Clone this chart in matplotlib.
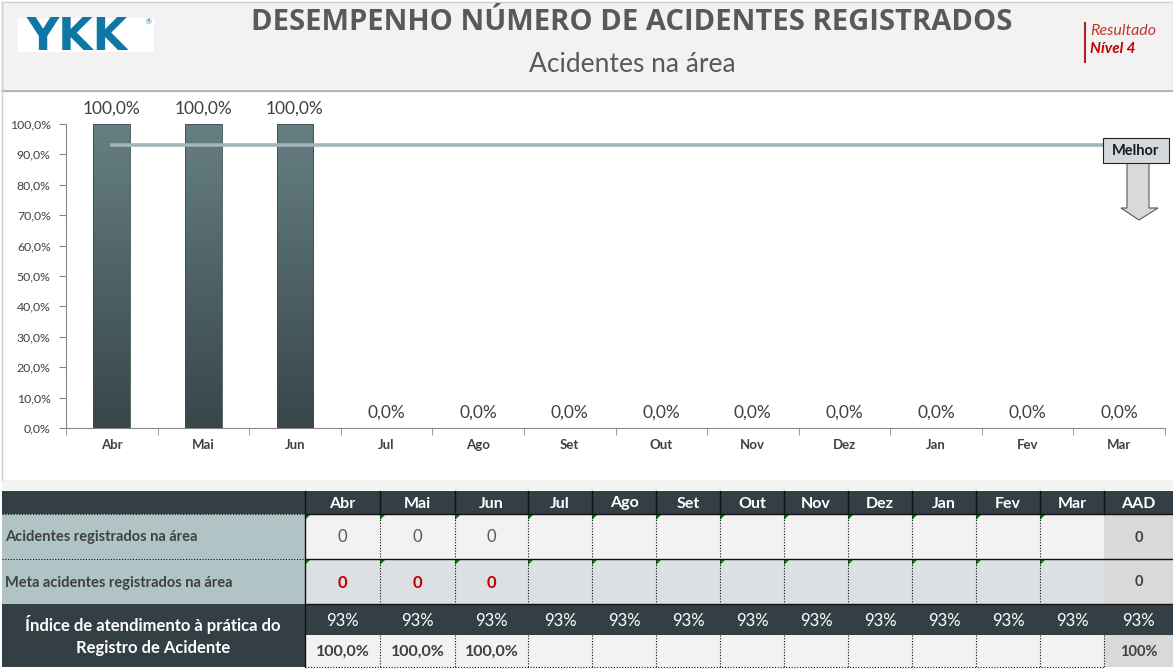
import matplotlib
matplotlib.use("Agg")
import matplotlib.pyplot as plt
import numpy as np
from matplotlib.colors import LinearSegmentedColormap
from matplotlib.patches import Rectangle, Polygon

plt.rcParams['font.family'] = ['Lato', 'DejaVu Sans']

# Data
months = ['Abr', 'Mai', 'Jun', 'Jul', 'Ago', 'Set', 'Out', 'Nov', 'Dez', 'Jan', 'Fev', 'Mar']
indice = [100.0, 100.0, 100.0, 0.0, 0.0, 0.0, 0.0, 0.0, 0.0, 0.0, 0.0, 0.0]
meta_indice = [93] * 12
acidentes = [0, 0, 0, None, None, None, None, None, None, None, None, None]
meta_acidentes = [0, 0, 0, None, None, None, None, None, None, None, None, None]
resultado = ['100,0%', '100,0%', '100,0%', '', '', '', '', '', '', '', '', '']
aad_acidentes = 0
aad_meta = 0
aad_indice = '93%'
aad_resultado = '100%'

W, H = 1173, 671
fig = plt.figure(figsize=(W / 100, H / 100), dpi=100)
fig.patch.set_facecolor('white')

# pixel overlay for header, backgrounds and table
bg = fig.add_axes([0, 0, 1, 1], zorder=0)
bg.set_xlim(0, W)
bg.set_ylim(H, 0)
bg.axis('off')

dark = '#333f44'
txt = '#404040'

# header band
bg.add_patch(Rectangle((2, 2), W - 2, 89, facecolor='#f2f2f2', edgecolor='#d0d0d0', lw=1))
bg.plot([2, W], [91, 91], color='#b0b0b0', lw=1.2)
bg.plot([2, 2], [2, 480], color='#d0d0d0', lw=1)
bg.add_patch(Rectangle((2, 480), W - 2, 10, facecolor='#f2f2f2', edgecolor='none'))

# logo
bg.add_patch(Rectangle((18, 18), 136, 34, facecolor='white', edgecolor='none'))
bg.text(77, 37, 'YKK', fontsize=32, fontweight='black', color='#0f77a6',
        ha='center', va='center', family=['DejaVu Sans'])
bg.text(149, 22, '®', fontsize=5, color='#0f77a6', ha='center', va='center')

bg.text(632, 23, 'DESEMPENHO NÚMERO DE ACIDENTES REGISTRADOS', fontsize=21,
        fontweight='bold', color='#595959', ha='center', va='center', family=['Open Sans'])
bg.text(632, 65, 'Acidentes na área', fontsize=19, color='#595959', ha='center', va='center')

# result level
bg.plot([1085, 1085], [23, 62], color='#b22222', lw=1.5)
bg.text(1090, 31, 'Resultado', fontsize=11.5, style='italic', color='#c0392b', va='center')
bg.text(1090, 49, 'Nível 4', fontsize=11, style='italic', fontweight='bold', color='#c00000', va='center')

# main chart
ax = fig.add_axes([66 / W, 1 - 428 / H, (1165 - 66) / W, 304 / H], zorder=2)
ax.patch.set_alpha(0)
x = np.arange(len(months))
vals = np.array(indice) / 100
bw = 0.4
cmap = LinearSegmentedColormap.from_list('bar', ['#374649', '#667f83'])
grad = np.linspace(0, 1, 256).reshape(-1, 1)
for xi, v in zip(x, vals):
    if v > 0:
        ax.imshow(grad, extent=(xi - bw / 2, xi + bw / 2, 0, v), origin='lower',
                  aspect='auto', cmap=cmap, zorder=2)
ax.bar(x, vals, width=bw, facecolor='none', edgecolor='#3d4c50', lw=0.6, zorder=3)
for xi, v in zip(x, vals):
    ax.annotate(f"{v * 100:.1f}%".replace('.', ','), xy=(xi, v), xytext=(0, 15),
                textcoords='offset pixels', ha='center', va='center', fontsize=12.5, color=txt)

ax.plot(x, np.array(meta_indice) / 100, color='#a2b5b8', lw=2.6, zorder=4)

ax.set_xlim(-0.5, len(months) - 0.5)
ax.set_ylim(0, 1.0)
ax.set_yticks(np.arange(0, 1.01, 0.1))
ax.set_yticklabels([f"{t:.1f}%".replace('.', ',') for t in np.arange(0, 101, 10)],
                   fontsize=8.8, color=txt)
ax.set_xticks(x)
ax.set_xticklabels(months, fontsize=9.5, fontweight='bold', color=txt)
ax.set_xticks(np.arange(-0.5, len(months), 1), minor=True)
ax.tick_params(axis='x', which='major', length=0, pad=8)
ax.tick_params(axis='x', which='minor', length=5, color='#888888', direction='out')
ax.tick_params(axis='y', length=5, color='#888888', pad=6)
for s in ['top', 'right']:
    ax.spines[s].set_visible(False)
ax.spines['left'].set_color('#888888')
ax.spines['bottom'].set_color('#888888')

# Melhor box and arrow on top overlay
fg = fig.add_axes([0, 0, 1, 1], zorder=5)
fg.set_xlim(0, W)
fg.set_ylim(H, 0)
fg.axis('off')
fg.add_patch(Polygon([(1127, 163), (1149, 163), (1149, 208), (1158, 208), (1139, 220),
                      (1121, 208), (1127, 208)], closed=True, facecolor='#d9d9d9',
                     edgecolor='#595959', lw=0.8))
fg.add_patch(Rectangle((1103, 138), 66, 25, facecolor='#d3dadc', edgecolor='#222222', lw=0.8))
fg.text(1136, 151, 'Melhor', fontsize=10.5, fontweight='bold', color='#1a1a1a', ha='center', va='center')

# Table
col_edges = [305, 380, 455, 528, 592, 656, 720, 784, 848, 912, 976, 1040, 1104, 1173]
rows = [491, 514, 559, 604, 635, 667]

# header row
bg.add_patch(Rectangle((2, rows[0]), W - 2, rows[1] - rows[0], facecolor=dark, edgecolor='none'))
labels = months + ['AAD']
for i, lab in enumerate(labels):
    cx = (col_edges[i] + col_edges[i + 1]) / 2
    bg.text(cx, (rows[0] + rows[1]) / 2 + 1, lab, color='white', fontsize=11.5, fontweight='bold',
            ha='center', va='center')
for e in col_edges[:-1]:
    bg.plot([e, e], [rows[0], rows[1]], color='#111111', lw=1)

# rows 1 and 2
row_fills = ['#f2f2f2', '#dde0e2']
row_labels = ['Acidentes registrados na área', 'Meta acidentes registrados na área']
for r in range(2):
    y0, y1 = rows[r + 1], rows[r + 2]
    bg.add_patch(Rectangle((2, y0), 303, y1 - y0, facecolor='#b0c3c5', edgecolor='none'))
    bg.add_patch(Rectangle((305, y0), 1104 - 305, y1 - y0, facecolor=row_fills[r], edgecolor='none'))
    bg.add_patch(Rectangle((1104, y0), W - 1104, y1 - y0, facecolor='#d9d9d9', edgecolor='none'))
    bg.text(5, (y0 + y1) / 2 + 1, row_labels[r], fontsize=10.5, fontweight='bold', color=txt,
            ha='left', va='center')
    for i in range(12):
        bg.add_patch(Polygon([(col_edges[i], y0), (col_edges[i] + 6, y0), (col_edges[i], y0 + 6)],
                             closed=True, facecolor='#008000', edgecolor='none'))
        if i > 0:
            bg.plot([col_edges[i], col_edges[i]], [y0, y1], color='#111111', lw=0.8, ls=(0, (1, 1.5)))
    bg.plot([2, 305], [y0, y0], color='#111111', lw=0.8, ls=(0, (1, 1.5)))

for i, v in enumerate(acidentes):
    if v is not None:
        cx = (col_edges[i] + col_edges[i + 1]) / 2
        bg.text(cx, (rows[1] + rows[2]) / 2 + 1, str(v), fontsize=12, color='#595959',
                ha='center', va='center')
for i, v in enumerate(meta_acidentes):
    if v is not None:
        cx = (col_edges[i] + col_edges[i + 1]) / 2
        bg.text(cx, (rows[2] + rows[3]) / 2 + 1, str(v), fontsize=12, fontweight='bold',
                color='#c00000', ha='center', va='center')
cx_aad = (col_edges[-2] + col_edges[-1]) / 2
bg.text(cx_aad, (rows[1] + rows[2]) / 2 + 1, str(aad_acidentes), fontsize=10.5, fontweight='bold',
        color=txt, ha='center', va='center')
bg.text(cx_aad, (rows[2] + rows[3]) / 2 + 1, str(aad_meta), fontsize=10.5, fontweight='bold',
        color=txt, ha='center', va='center')

# rows 3 and 4
bg.add_patch(Rectangle((2, rows[3]), W - 2, rows[5] - rows[3], facecolor=dark, edgecolor='none'))
bg.add_patch(Rectangle((305, rows[4]), 1104 - 305, rows[5] - rows[4], facecolor='#f2f2f2',
                       edgecolor='none'))
bg.add_patch(Rectangle((1104, rows[4]), W - 1104, rows[5] - rows[4], facecolor='#d9d9d9',
                       edgecolor='none'))
bg.text(153, (rows[3] + rows[5]) / 2, 'Índice de atendimento à prática do\nRegistro de Acidente',
        fontsize=12, fontweight='bold', color='white', ha='center', va='center', linespacing=1.45)
for i, v in enumerate(meta_indice):
    cx = (col_edges[i] + col_edges[i + 1]) / 2
    bg.text(cx, (rows[3] + rows[4]) / 2 + 2, f'{v}%', fontsize=12, color='white',
            ha='center', va='center')
    if resultado[i]:
        bg.text(cx, (rows[4] + rows[5]) / 2 + 1, resultado[i], fontsize=11.5, fontweight='bold',
                color=txt, ha='center', va='center')
    if i > 0:
        bg.plot([col_edges[i], col_edges[i]], [rows[4], rows[5]], color='#111111', lw=0.8,
                ls=(0, (1, 1.5)))
bg.text(cx_aad, (rows[3] + rows[4]) / 2 + 2, aad_indice, fontsize=12, color='white',
        ha='center', va='center')
bg.text(cx_aad, (rows[4] + rows[5]) / 2 + 1, aad_resultado, fontsize=10.5, fontweight='bold',
        color=txt, ha='center', va='center')

# table borders
for yy in rows[1:4]:
    bg.plot([305, W], [yy, yy], color='#111111', lw=1)
bg.plot([305, 305], [rows[1], rows[5]], color='#111111', lw=1)
bg.plot([305, 1104], [rows[5], rows[5]], color='#111111', lw=0.8, ls=(0, (1, 1.5)))
bg.plot([1104, 1104], [rows[4], rows[5]], color='#111111', lw=0.8, ls=(0, (1, 1.5)))

fig.savefig('out.png', dpi=100)
